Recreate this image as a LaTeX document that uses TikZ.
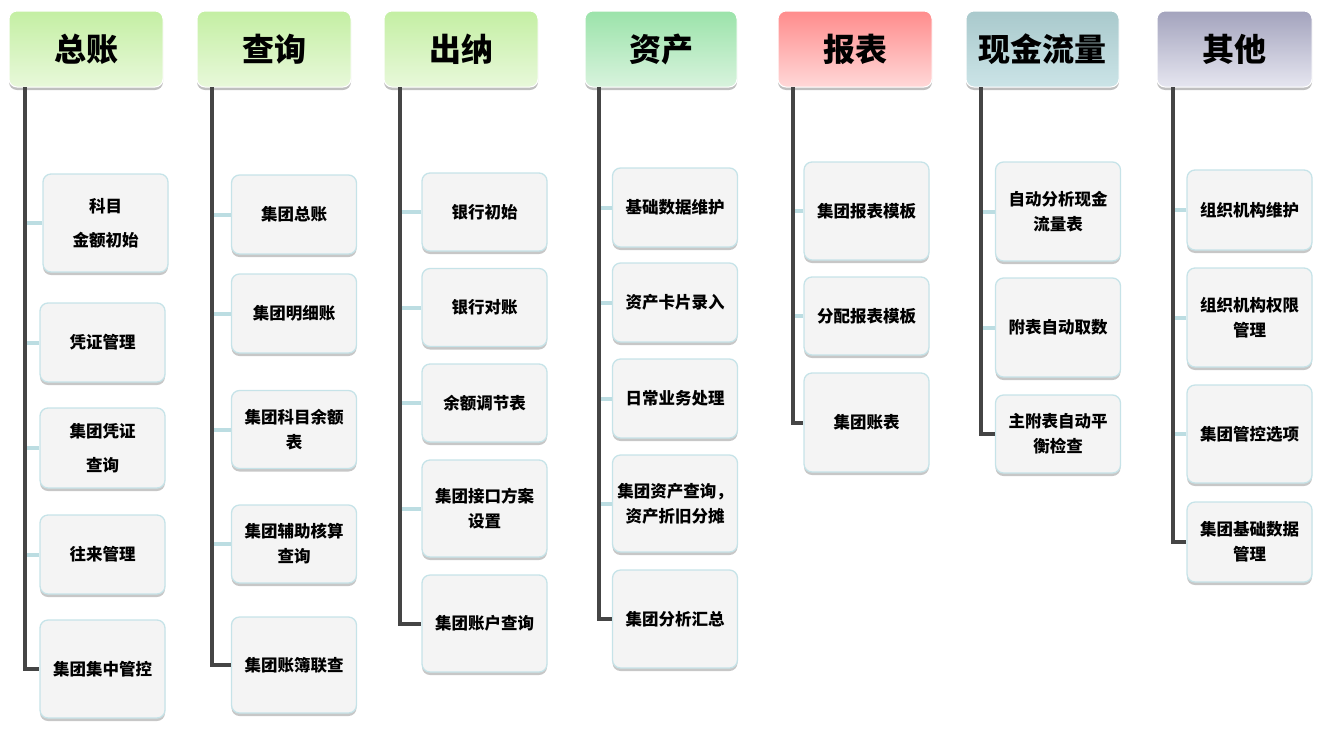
\documentclass[tikz,border=0pt]{standalone}
\usepackage{fontspec}
\setmainfont{Noto Sans CJK SC}
\usetikzlibrary{shadows}
\definecolor{gtop}{HTML}{C4EFA3}
\definecolor{gbot}{HTML}{E8F8DA}
\definecolor{atop}{HTML}{9BE3AA}
\definecolor{abot}{HTML}{D8F3DD}
\definecolor{rtop}{HTML}{FF8C8C}
\definecolor{rbot}{HTML}{FFD8D8}
\definecolor{ttop}{HTML}{A9C9CC}
\definecolor{tbot}{HTML}{CBE4E7}
\definecolor{ptop}{HTML}{A3A3BD}
\definecolor{pbot}{HTML}{E6E6F0}
\definecolor{cfill}{HTML}{F4F4F4}
\definecolor{cborder}{HTML}{C6E3E8}
\definecolor{trunkc}{HTML}{454545}
\definecolor{connc}{HTML}{BCDDE2}
\tikzset{
  hdr/.style={rounded corners=8pt, draw=white, line width=1pt,
    minimum width=154pt, minimum height=76pt, inner sep=0pt,
    font=\bfseries\fontsize{32}{36}\selectfont,
    drop shadow={shadow xshift=0pt, shadow yshift=-3pt, fill=black, opacity=0.25}},
  green hdr/.style={hdr, top color=gtop, bottom color=gbot},
  item/.style={rounded corners=8pt, draw=cborder, line width=1.3pt, fill=cfill,
    minimum width=125pt, inner sep=0pt, align=center,
    font=\bfseries\fontsize{16.5}{25}\selectfont,
    drop shadow={shadow xshift=0pt, shadow yshift=-3pt, fill=black, opacity=0.22}},
  wide/.style={font=\bfseries\fontsize{16.5}{34}\selectfont},
  trunk/.style={draw=trunkc, line width=4pt},
  conn/.style={draw=connc, line width=4pt},
}
\begin{document}
\begin{tikzpicture}[x=1pt, y=-1pt]
\useasboundingbox (0,0) rectangle (1324,734);
% headers
\node[green hdr] (h1) at (86,49) {总账};
\node[green hdr] (h2) at (274,49) {查询};
\node[green hdr] (h3) at (461,49) {出纳};
\node[hdr, top color=atop, bottom color=abot, minimum width=152pt] (h4) at (661,49) {资产};
\node[hdr, top color=rtop, bottom color=rbot] (h5) at (855,49) {报表};
\node[hdr, top color=ttop, bottom color=tbot, minimum width=153pt] (h6) at (1042.5,49) {现金流量};
\node[hdr, top color=ptop, bottom color=pbot, minimum width=155pt] (h7) at (1234.5,49) {其他};
% trunk tops
\coordinate (v1) at (25,87);
\coordinate (v2) at (212,87);
\coordinate (v3) at (400,87);
\coordinate (v4) at (599,87);
\coordinate (v5) at (793,87);
\coordinate (v6) at (981,87);
\coordinate (v7) at (1173,87);
% column 1
\node[item, wide, minimum height=98pt] (c11) at (105.5,223) {科目\\金额初始};
\node[item, minimum height=79pt] (c12) at (102.5,342.5) {凭证管理};
\node[item, wide, minimum height=80pt] (c13) at (102.5,448) {集团凭证\\查询};
\node[item, minimum height=79pt] (c14) at (102.5,554.5) {往来管理};
\node[item, minimum height=98pt] (c15) at (102.5,669) {集团集中管控};
% column 2
\node[item, minimum height=79pt] (c21) at (294,214.5) {集团总账};
\node[item, minimum height=79pt] (c22) at (294,313.5) {集团明细账};
\node[item, minimum height=78pt] (c23) at (294,429.5) {集团科目余额\\表};
\node[item, minimum height=78pt] (c24) at (294,544) {集团辅助核算\\查询};
\node[item, minimum height=96pt] (c25) at (294,665) {集团账簿联查};
% column 3
\node[item, minimum height=78pt] (c31) at (484.5,212) {银行初始};
\node[item, minimum height=78pt] (c32) at (484.5,307.5) {银行对账};
\node[item, minimum height=78pt] (c33) at (484.5,403) {余额调节表};
\node[item, minimum height=97pt] (c34) at (484.5,508.5) {集团接口方案\\设置};
\node[item, minimum height=97pt] (c35) at (484.5,623.5) {集团账户查询};
% column 4
\node[item, minimum height=79pt] (c41) at (675,207.5) {基础数据维护};
\node[item, minimum height=79pt] (c42) at (675,302.5) {资产卡片录入};
\node[item, minimum height=79pt] (c43) at (675,398.5) {日常业务处理};
\node[item, minimum height=97pt] (c44) at (675,503.5) {集团资产查询，\\资产折旧分摊};
\node[item, minimum height=98pt] (c45) at (675,619) {集团分析汇总};
% column 5
\node[item, minimum height=98pt] (c51) at (866.5,211) {集团报表模板};
\node[item, minimum height=78pt] (c52) at (866.5,316) {分配报表模板};
\node[item, minimum height=99pt] (c53) at (866.5,422.5) {集团账表};
% column 6
\node[item, minimum height=99pt] (c61) at (1058,211.5) {自动分析现金\\流量表};
\node[item, minimum height=99pt] (c62) at (1058,327.5) {附表自动取数};
\node[item, minimum height=78pt] (c63) at (1058,434) {主附表自动平\\衡检查};
% column 7
\node[item, minimum height=80pt] (c71) at (1249.5,210) {组织机构维护};
\node[item, minimum height=99pt] (c72) at (1249.5,317.5) {组织机构权限\\管理};
\node[item, minimum height=98pt] (c73) at (1249.5,434) {集团管控选项};
\node[item, minimum height=80pt] (c74) at (1249.5,542) {集团基础数据\\管理};
% light connectors
\foreach \c/\v in {c11/v1,c12/v1,c13/v1,c14/v1,
                   c21/v2,c22/v2,c23/v2,c24/v2,
                   c31/v3,c32/v3,c33/v3,c34/v3,
                   c41/v4,c42/v4,c43/v4,c44/v4,
                   c51/v5,c52/v5,
                   c61/v6,c62/v6,
                   c71/v7,c72/v7,c73/v7}
  \draw[conn] (\c.west) -- (\c.west -| \v);
% trunks
\draw[trunk] (v1) |- (c15.west);
\draw[trunk] (v2) |- (c25.west);
\draw[trunk] (v3) |- (c35.west);
\draw[trunk] (v4) |- (c45.west);
\draw[trunk] (v5) |- (c53.west);
\draw[trunk] (v6) |- (c63.west);
\draw[trunk] (v7) |- (c74.west);
\end{tikzpicture}
\end{document}
